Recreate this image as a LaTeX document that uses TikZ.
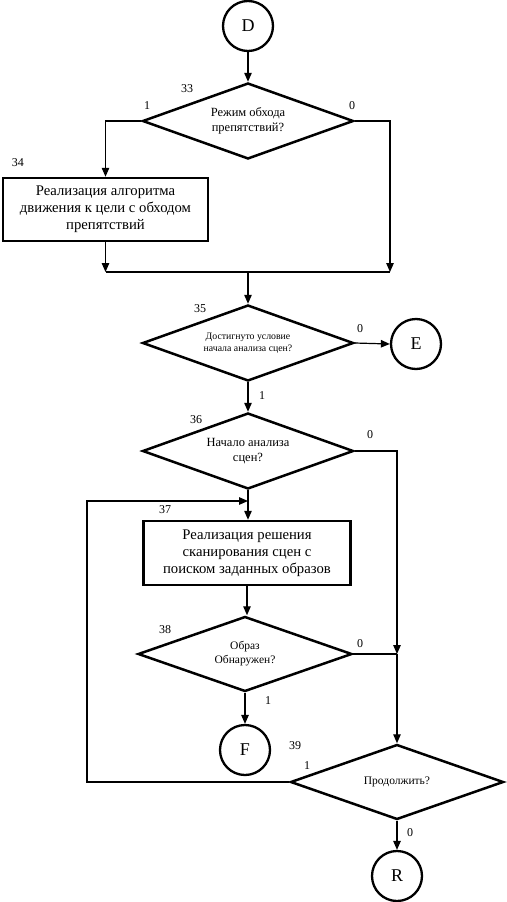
\documentclass[tikz,border=0pt]{standalone}
\usepackage{fontspec}
\setmainfont{Liberation Serif}
\usetikzlibrary{shapes.geometric,arrows.meta}

\newcommand\blockfont{\fontsize{14.7}{17}\selectfont}
\newcommand\askfont{\fontsize{12.5}{14.5}\selectfont}
\newcommand\tagfont{\fontsize{12}{13}\selectfont}
\newcommand\jumpfont{\fontsize{18}{18}\selectfont}
\tikzset{
  block/.style={draw, line width=2.5pt, rectangle, align=center, inner sep=0pt, font=\blockfont},
  ask/.style={draw, line width=2.5pt, diamond, aspect=3.2, inner sep=0pt, minimum width=211pt, minimum height=76pt, align=center, font=\askfont},
  jump/.style={draw, line width=2.3pt, circle, minimum size=50pt, inner sep=0pt, font=\jumpfont},
  tag/.style={inner sep=0pt, font=\tagfont},
  wire/.style={line width=1.2pt},
  flow/.style={wire, -{Triangle[length=9pt,width=7.5pt]}},
}

\begin{document}
\begin{tikzpicture}[x=1pt,y=-1pt]
  \useasboundingbox (0,0) rectangle (506,902);
  \node[jump] (D) at (248,26) {D};
  \node[ask] (q33) at (248,121) {Режим обхода\\препятствий?};
  \node[block, minimum width=205pt, minimum height=63pt] (b34) at (105.5,209.5)
     {Реализация алгоритма\\движения к цели с обходом\\препятствий};
  \coordinate (jr) at (390,272);
  \coordinate (jl) at (b34.south |- jr);
  \coordinate (jm) at (q33.south |- jr);
  \node[ask, font=\fontsize{9.8}{12}\selectfont] (q35) at (248,343) {Достигнуто условие\\начала анализа сцен?};
  \node[jump] (E) at (416,344) {E};
  \node[ask] (q36) at (248,451) {Начало анализа\\сцен?};
  \coordinate (lp) at (87,501);
  \node[block, minimum width=207pt, minimum height=64pt] (b37) at (247,553)
     {Реализация решения\\сканирования сцен с\\поиском заданных образов};
  \node[ask, minimum width=214pt, minimum height=75pt, font=\fontsize{11.5}{14}\selectfont] (q38) at (245,654) {Образ\\Обнаружен?};
  \coordinate (j0) at (397,654);
  \node[jump] (F) at (245,750) {F};
  \node[ask, minimum width=213pt, minimum height=75pt, font=\fontsize{11.5}{14}\selectfont] (q39) at (397,782) {Продолжить?};
  \node[jump] (R) at (397,876) {R};

  \draw[flow] (D) -- (q33.north);
  \draw[flow] (q33.west) -| (b34.north);
  \draw[flow] (q33.east) -| (jr);
  \draw[flow] (b34.south) -- (jl);
  \draw[wire] (jl) -- (jr);
  \draw[flow] (jm) -- (q35.north);
  \draw[flow] (q35.east) -- (E.west);
  \draw[flow] (q35.south) -- (q36.north);
  \draw[flow] (q36.south) -- (q36.south |- b37.north);
  \draw[flow] (q36.east) -| (j0);
  \draw[wire] (q38.east) -- (j0);
  \draw[flow] (j0) -- (q39.north);
  \draw[flow] (b37.south) -- (b37.south |- q38.north);
  \draw[flow] (q38.south) -- (F.north);
  \draw[flow] (q39.west) -| (lp) -- (lp -| q36.south);
  \draw[flow] (q39.south) -- (R.north);

  \node[tag] (t33) at (187,89) {33};
  \node[tag] (y33) at (147,106) {1};
  \node[tag] (n33) at (352,106) {0};
  \node[tag] (t34) at (18,163) {34};
  \node[tag] (t35) at (200,309) {35};
  \node[tag] (n35) at (360,329) {0};
  \node[tag] (y35) at (262,396) {1};
  \node[tag] (t36) at (196,420) {36};
  \node[tag] (n36) at (370,435) {0};
  \node[tag] (t37) at (165,510) {37};
  \node[tag] (t38) at (165,630) {38};
  \node[tag] (n38) at (360,644) {0};
  \node[tag] (y38) at (268,701) {1};
  \node[tag] (t39) at (295,746) {39};
  \node[tag] (y39) at (307,766) {1};
  \node[tag] (n39) at (410,833) {0};
\end{tikzpicture}
\end{document}
